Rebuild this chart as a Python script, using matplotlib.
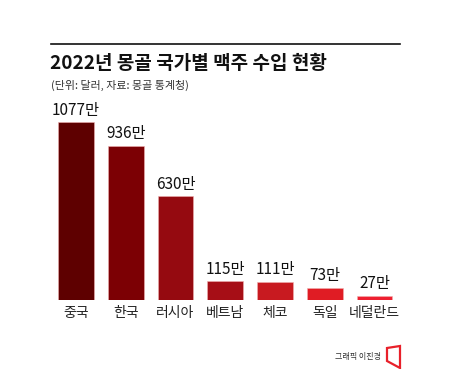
import matplotlib
matplotlib.use("Agg")
import matplotlib.pyplot as plt
from matplotlib.lines import Line2D
from matplotlib.patches import Polygon

plt.rcParams['font.family'] = ['Noto Sans CJK KR', 'DejaVu Sans']

countries = ["중국", "한국", "러시아", "베트남", "체코", "독일", "네덜란드"]
values = [1077, 936, 630, 115, 111, 73, 27]
value_labels = ["1077만", "936만", "630만", "115만", "111만", "73만", "27만"]
colors = ["#5e0000", "#7c0004", "#950a10", "#a60e16", "#c81a20", "#e01c24", "#ee2030"]

title = "2022년 몽골 국가별 맥주 수입 현황"
subtitle = "(단위: 달러, 자료: 몽골 통계청)"
credit = "그래픽 이진경"

W, H = 450, 369
fig = plt.figure(figsize=(W / 100, H / 100), dpi=100)
fig.patch.set_facecolor("white")

def fx(px):
    return px / W

def fy(py):
    return 1 - py / H

# axes for bars
ax_left, ax_right = 51.1, 399.4
ax_bottom, ax_top = 300, 102
ax = fig.add_axes([fx(ax_left), fy(ax_bottom), (ax_right - ax_left) / W, (ax_bottom - ax_top) / H])
x = list(range(len(countries)))
ax.bar(x, values, width=0.72, color=colors, edgecolor="#f0b0b0", linewidth=0.4)
ax.set_xlim(-0.5, len(countries) - 0.5)
ax.set_ylim(0, 1200)
ax.axis("off")

for xi, v, lab in zip(x, values, value_labels):
    ax.annotate(lab, (xi, v), xytext=(0, 2.5), textcoords="offset points",
                ha="center", va="bottom", fontsize=11, fontweight="medium",
                color="#111111")

for xi, c in zip(x, countries):
    fig.text(fx(ax_left + (xi + 0.5) * (ax_right - ax_left) / len(countries)), fy(313), c,
             ha="center", va="center", fontsize=10, color="#222222")

# top rule
fig.add_artist(Line2D([fx(51), fx(400)], [fy(44), fy(44)], color="#111111", linewidth=1.2))

fig.text(fx(50), fy(63.5), title, ha="left", va="center", fontsize=13.7,
         fontweight="bold", color="#111111")
fig.text(fx(51), fy(85), subtitle, ha="left", va="center", fontsize=7.9,
         color="#333333")

fig.text(fx(381), fy(357), credit, ha="right", va="center", fontsize=5.8,
         color="#333333")
fig.add_artist(Polygon([(fx(387), fy(348)), (fx(400), fy(346)), (fx(400), fy(368)), (fx(387), fy(361))],
                       closed=True, fill=False, edgecolor="#e8202a", linewidth=1.6,
                       transform=fig.transFigure))

fig.savefig("out.png", dpi=100, facecolor="white")
